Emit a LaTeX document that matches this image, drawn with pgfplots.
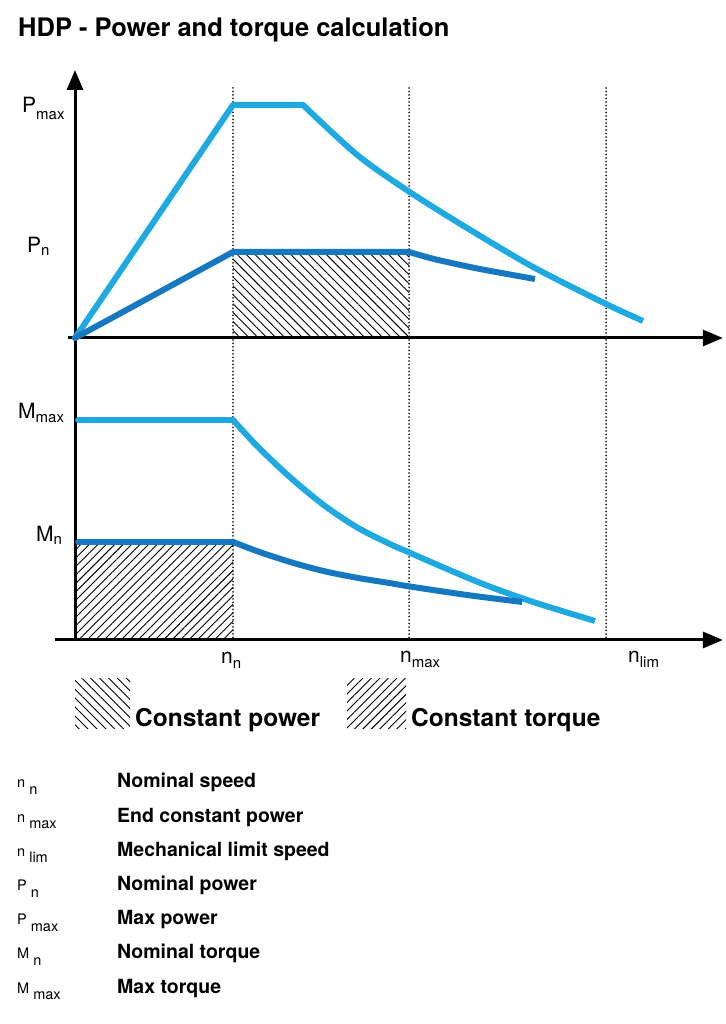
\documentclass[border=0pt]{standalone}
\usepackage{fontspec}
\setmainfont{TeX Gyre Heros}
\usepackage{pgfplots}
\pgfplotsset{compat=1.18}
\usetikzlibrary{arrows.meta,patterns.meta}
\definecolor{lblue}{RGB}{30,170,225}
\definecolor{dblue}{RGB}{22,120,192}
\newcommand{\lbl}[3]{{\fontsize{21}{21}\selectfont #1}{\fontsize{15}{15}\selectfont\raisebox{-#3}{#2}}}
\newcommand{\sym}[2]{{\fontsize{14.5}{14.5}\selectfont #1 \raisebox{-6.5pt}{#2}}}
\begin{document}
\begin{tikzpicture}[x=1pt,y=1pt]
\useasboundingbox (0,0) rectangle (725,1024);
\tikzset{
  hatchA/.style={pattern={Lines[angle=-45,distance=6.3pt,line width=0.9pt]},pattern color=black},
  hatchB/.style={pattern={Lines[angle=45,distance=6pt,line width=0.9pt]},pattern color=black},
  dotl/.style={line width=2pt,line cap=round,dash pattern=on 0pt off 3.5pt,black!85},
  ax/.style={line width=3pt,-{Triangle[length=20pt,width=16pt]}},
  st/.style={line width=6pt,line join=round,line cap=round,sharp plot},
  cv/.style={line width=6pt,line join=round,smooth,tension=0.5}
}
% ---------- top axis (power)
\begin{axis}[at={(75pt,686pt)},anchor=south west,scale only axis,
  width=645pt,height=268pt,xmin=0,xmax=4.082,ymin=0,ymax=3.116,
  hide axis,clip=false]
\addplot[draw=none,hatchA] coordinates {(1,0)(2.114,0)(2.114,1)(1,1)};
\draw[dotl] (axis cs:1,2.907) -- (axis cs:1,-3.512);
\draw[dotl] (axis cs:2.114,2.907) -- (axis cs:2.114,-3.512);
\draw[dotl] (axis cs:3.361,2.907) -- (axis cs:3.361,-3.512);
\draw[ax] (axis cs:0,-3.512) -- (axis cs:0,3.116);
\draw[ax] (axis cs:-0.044,0) -- (axis cs:4.10,0);
\addplot[st,lblue] coordinates {(0,0)(1,2.71)(1.443,2.71)};
\addplot[cv,lblue] coordinates {(1.443,2.71)(1.785,2.13)(2.108,1.709)(2.481,1.279)(2.899,0.826)(3.361,0.395)(3.595,0.198)};
\addplot[st,dblue] coordinates {(0,0)(1,1)(2.114,1)};
\addplot[cv,dblue] coordinates {(2.114,1)(2.247,0.930)(2.354,0.884)(2.563,0.802)(2.911,0.686)};
\end{axis}
% ---------- bottom axis (torque)
\begin{axis}[at={(75pt,384pt)},anchor=south west,scale only axis,
  width=645pt,height=300pt,xmin=0,xmax=4.082,ymin=0,ymax=3.06,
  hide axis,clip=false]
\addplot[draw=none,hatchB] coordinates {(0,0)(1,0)(1,1)(0,1)};
\draw[ax] (axis cs:-0.127,0) -- (axis cs:4.10,0);
\addplot[st,lblue] coordinates {(0.02,2.245)(1,2.245)};
\addplot[cv,lblue] coordinates {(1,2.245)(1.158,1.969)(1.373,1.643)(1.582,1.367)(1.791,1.143)(2.006,0.969)(2.108,0.898)(2.266,0.786)(2.582,0.571)(2.899,0.388)(3.291,0.194)};
\addplot[st,dblue] coordinates {(0.02,1)(1,1)};
\addplot[cv,dblue] coordinates {(1,1)(1.158,0.903)(1.373,0.790)(1.582,0.700)(1.791,0.633)(2.006,0.577)(2.114,0.547)(2.481,0.459)(2.829,0.388)};
\end{axis}
% ---------- labels
\node[anchor=base west,inner sep=0] at (18,987) {\fontsize{25.5}{25.5}\selectfont\bfseries HDP - Power and torque calculation};
\node[anchor=base west,inner sep=0] at (22,911) {\lbl{P}{max}{7pt}};
\node[anchor=base west,inner sep=0] at (27,771) {\lbl{P}{n}{3pt}};
\node[anchor=base west,inner sep=0] at (18,605) {\lbl{M}{max}{4pt}};
\node[anchor=base west,inner sep=0] at (36,482) {\lbl{M}{n}{3pt}};
\node[anchor=base west,inner sep=0] at (221,360) {\lbl{n}{n}{5pt}};
\node[anchor=base west,inner sep=0] at (400,361) {\lbl{n}{max}{5pt}};
\node[anchor=base west,inner sep=0] at (628,361) {\lbl{n}{lim}{5pt}};
% ---------- legend
\fill[hatchA] (75,295) rectangle (130,345);
\fill[hatchB] (347,295) rectangle (406,345);
\node[anchor=base west,inner sep=0] at (135,297) {\fontsize{24.5}{24.5}\selectfont\bfseries Constant power};
\node[anchor=base west,inner sep=0] at (411,297) {\fontsize{24.5}{24.5}\selectfont\bfseries Constant torque};
% ---------- list
\foreach \s/\b/\t [count=\i from 0] in {n/n/Nominal speed, n/max/End constant power, n/lim/Mechanical limit speed, P/n/Nominal power, P/max/Max power, M/n/Nominal torque, M/max/Max torque}{
  \node[anchor=base west,inner sep=0] at (17,{236-34.2*\i}) {\sym{\s}{\b}};
  \node[anchor=base west,inner sep=0] at (117,{236-34.2*\i}) {\fontsize{19.5}{19.5}\selectfont\bfseries \t};
}
\end{tikzpicture}
\end{document}
